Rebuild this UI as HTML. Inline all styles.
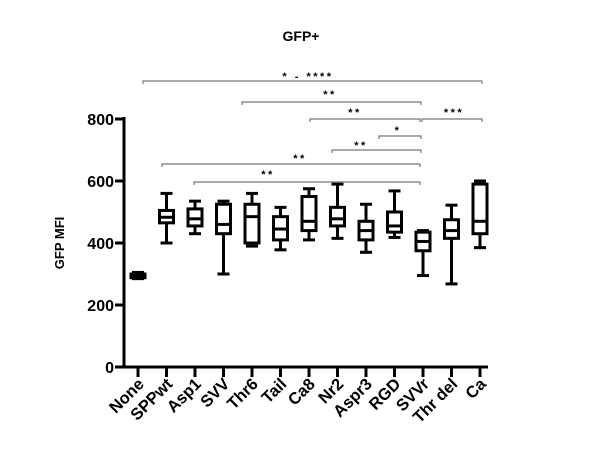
<!DOCTYPE html>
<html><head><style>body{margin:0;background:#fff}svg{display:block}text{font-family:"Liberation Sans",Arial,sans-serif;font-weight:bold}</style></head>
<body>
<svg width="600" height="450" viewBox="0 0 600 450" xmlns="http://www.w3.org/2000/svg">
<text x="301" y="41" font-size="14" text-anchor="middle">GFP+</text>
<text transform="translate(64,243) rotate(-90)" font-size="13" text-anchor="middle">GFP MFI</text>
<g stroke="#000" stroke-width="3" fill="none">
<line x1="124" y1="117" x2="124" y2="368"/>
<line x1="122" y1="367" x2="488" y2="367"/>
<line x1="115" y1="119" x2="124" y2="119"/>
<line x1="115" y1="181" x2="124" y2="181"/>
<line x1="115" y1="243" x2="124" y2="243"/>
<line x1="115" y1="305" x2="124" y2="305"/>
<line x1="115" y1="367" x2="124" y2="367"/>
</g>
<g font-size="16" text-anchor="end">
<text x="114" y="125">800</text><text x="114" y="187">600</text><text x="114" y="249">400</text><text x="114" y="311">200</text><text x="114" y="373">0</text>
</g>
<g id="plot" stroke="#000" stroke-width="3" fill="none"></g>
<g id="xl" font-size="16.5" text-anchor="end"></g>
<g stroke="#777" stroke-width="1.2" fill="none">
<path d="M143 84V81H482V84"/>
<path d="M242 105V102H421V105"/>
<path d="M310 122V119H420V122"/>
<path d="M422 122V119H482V122"/>
<path d="M379 139V136H421V139"/>
<path d="M332 153V150H421V153"/>
<path d="M162 167V164H420V167"/>
<path d="M194 185V182H420V185"/>
</g>
<g font-size="11" text-anchor="middle" font-weight="normal" letter-spacing="2.5">
<text x="308" y="80">* - ****</text>
<text x="330" y="98">**</text>
<text x="355" y="116">**</text>
<text x="454" y="116">***</text>
<text x="398" y="134">*</text>
<text x="361" y="149">**</text>
<text x="300" y="162">**</text>
<text x="268" y="178">**</text>
</g>
</svg>
<script>
var d=[["None",285,288,294,300,305],["SPPwt",400,465,483,505,560],["Asp1",430,455,478,510,535],["SVV",300,430,460,525,535],["Thr6",390,400,485,525,560],["Tail",378,410,445,485,515],["Ca8",410,440,470,550,575],["Nr2",415,455,478,515,590],["Aspr3",370,410,440,470,525],["RGD",418,435,455,500,568],["SVVr",295,375,405,435,440],["Thr del",268,415,440,475,522],["Ca",385,430,470,590,600]];
var ns="http://www.w3.org/2000/svg",p=document.getElementById("plot"),xl=document.getElementById("xl");
function Y(v){return 367-0.31*v}
function el(t,a,par){var e=document.createElementNS(ns,t);for(var k in a)e.setAttribute(k,a[k]);par.appendChild(e);return e}
d.forEach(function(r,i){var x=138+i*28.5;
el("line",{x1:x,y1:367,x2:x,y2:377},p);
var w=7,c=6;
el("line",{x1:x,y1:Y(r[1]),x2:x,y2:Y(r[2])},p);
el("line",{x1:x,y1:Y(r[4]),x2:x,y2:Y(r[5])},p);
el("line",{x1:x-c,y1:Y(r[1]),x2:x+c,y2:Y(r[1])},p);
el("line",{x1:x-c,y1:Y(r[5]),x2:x+c,y2:Y(r[5])},p);
el("rect",{x:x-w,y:Y(r[4]),width:2*w,height:Y(r[2])-Y(r[4]),fill:"#fff"},p);
el("line",{x1:x-w,y1:Y(r[3]),x2:x+w,y2:Y(r[3])},p);
var t=el("text",{transform:"translate("+(x+7)+",385) rotate(-45)"},xl);t.textContent=r[0];
});
</script>
</body></html>
